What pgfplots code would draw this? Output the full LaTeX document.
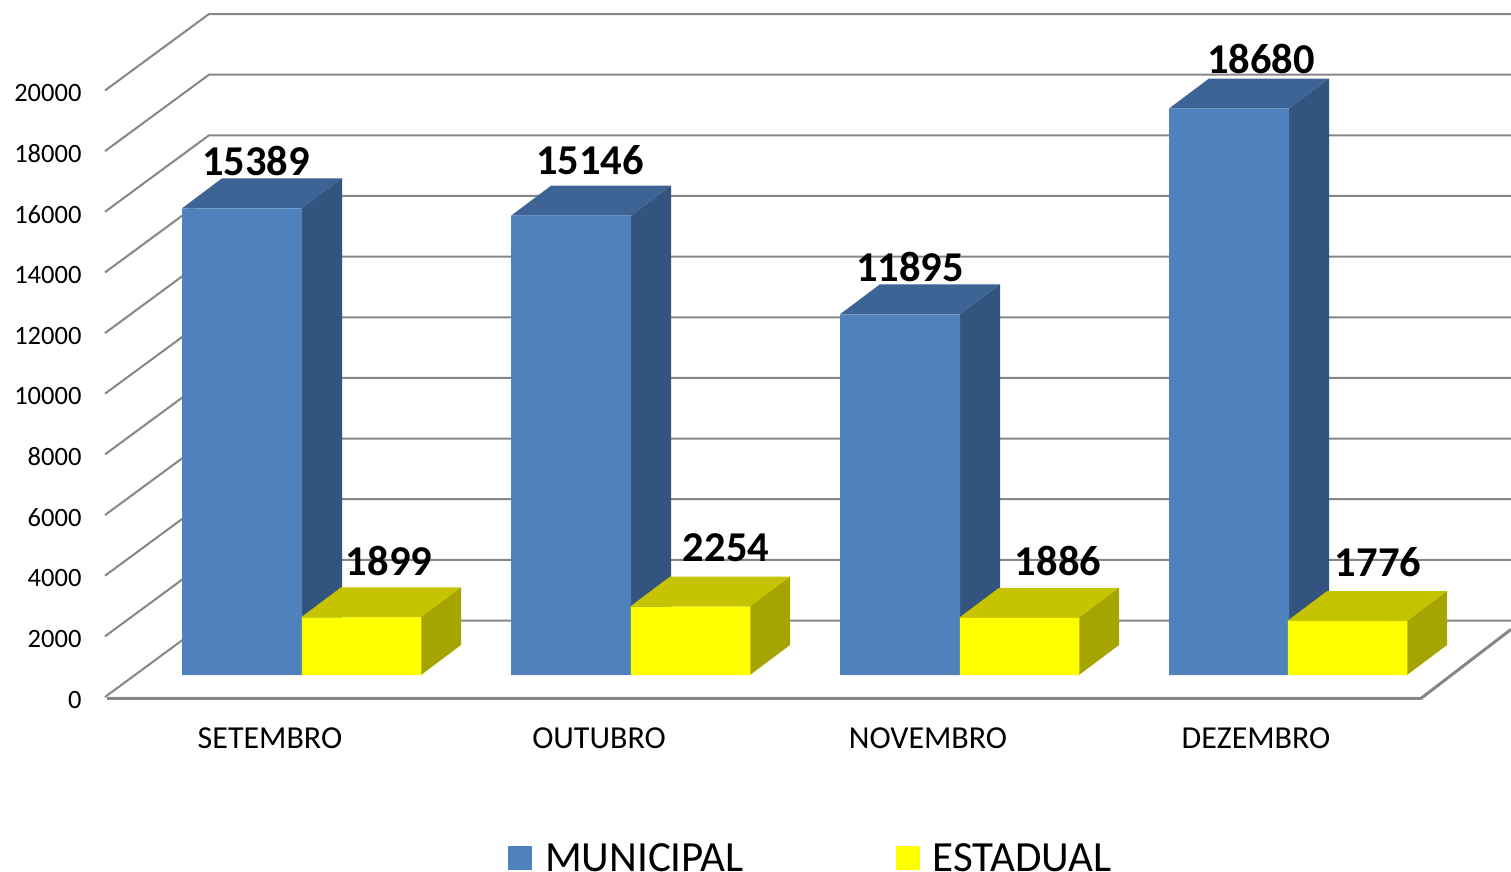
\documentclass[border=0pt]{standalone}
\usepackage{fontspec}
\setmainfont{Carlito}
\usepackage{pgfplots}
\pgfplotsset{compat=1.18}
\definecolor{gridc}{HTML}{868686}
\definecolor{bfront}{HTML}{4F81BD}
\definecolor{btop}{HTML}{3D6494}
\definecolor{bside}{HTML}{33547F}
\definecolor{yfront}{HTML}{FFFF00}
\definecolor{ytop}{HTML}{C6C300}
\definecolor{yside}{HTML}{A6A400}

% x is in picture pixels, y in chart units (bar bases at 0)
% wall gridline: front tick -> back wall -> right edge
\newcommand{\gridl}[1]{%
  \edef\tmp{\noexpand\addplot[gridc,line width=2pt,forget plot] coordinates
    {(105,\the\numexpr#1-725\relax) (209,\the\numexpr#1+1797\relax) (1511,\the\numexpr#1+1797\relax)};}%
  \tmp}
% top and side of a bar: left x, value, colours
\newcommand{\depth}[4]{%
  \edef\tmp{\noexpand\addplot[fill=#3,draw=none,forget plot] coordinates
    {(#1,#2) (\the\numexpr#1+40\relax,\the\numexpr#2+989\relax)
     (\the\numexpr#1+160\relax,\the\numexpr#2+989\relax) (\the\numexpr#1+120\relax,#2) (#1,#2)};
    \noexpand\addplot[fill=#4,draw=none,forget plot] coordinates
    {(\the\numexpr#1+120\relax,0) (\the\numexpr#1+160\relax,989)
     (\the\numexpr#1+160\relax,\the\numexpr#2+989\relax) (\the\numexpr#1+120\relax,#2) (\the\numexpr#1+120\relax,0)};}%
  \tmp}

\pgfplotstableread{
x v
242 15389
571 15146
900 11895
1229 18680
}\municipal
\pgfplotstableread{
x v
361.5 1899
690.5 2254
1019.5 1886
1347.5 1776
}\estadual

\begin{document}
\begin{tikzpicture}
\begin{axis}[
  scale only axis, width=1511pt, height=871pt,
  xmin=0, xmax=1511, ymin=-6463, ymax=22259,
  clip=false,
  axis line style={draw=none}, major tick length=0pt,
  tick label style={font=\fontsize{26.5}{30}\selectfont},
  scaled ticks=false,
  /pgf/number format/assume math mode=true,
  /pgf/number format/1000 sep={},
  ytick={0,2000,...,20000}, ytick pos=left,
  yticklabel style={anchor=east,xshift=85pt,yshift=-24.5pt},
  xtick={270,599,928,1256}, xtick pos=bottom,
  xticklabels={SETEMBRO,OUTUBRO,NOVEMBRO,DEZEMBRO},
  xticklabel style={font=\fontsize{32}{36}\selectfont,anchor=base,yshift=123pt},
  legend style={draw=none,fill=none,at={(0.5365,0.0145)},anchor=center,
    font=\fontsize{43}{47}\selectfont,inner sep=0pt,
    /tikz/every odd column/.append style={column sep=11pt},
    /tikz/every even column/.append style={column sep=150pt}},
  legend columns=2, legend cell align=left,
]
\gridl{0}\gridl{2000}\gridl{4000}\gridl{6000}\gridl{8000}\gridl{10000}
\gridl{12000}\gridl{14000}\gridl{16000}\gridl{18000}\gridl{20000}
% floor edges
\addplot[gridc,line width=3pt,forget plot] coordinates {(107,-770) (1421,-770) (1511,1505)};

\depth{182}{15389}{btop}{bside}
\depth{511}{15146}{btop}{bside}
\depth{840}{11895}{btop}{bside}
\depth{1169}{18680}{btop}{bside}
\addplot[ybar,bar width=120pt,bar shift=0pt,fill=bfront,draw=none,
  legend image code/.code={\fill[bfront] (0pt,-12pt) rectangle (24pt,12pt);}]
  table[x=x,y=v] {\municipal};
\addlegendentry{MUNICIPAL}

\depth{301}{1899}{ytop}{yside}
\depth{630}{2254}{ytop}{yside}
\depth{959}{1886}{ytop}{yside}
\depth{1287}{1776}{ytop}{yside}
\addplot[ybar,bar width=119.5pt,bar shift=0pt,fill=yfront,draw=none,
  legend image code/.code={\fill[yfront] (0pt,-12pt) rectangle (24pt,12pt);}]
  table[x=x,y=v] {\estadual};
\addlegendentry{ESTADUAL}

\begin{scope}[every node/.style={font=\fontsize{42.5}{46}\selectfont\bfseries,inner sep=0pt}]
\node at (axis cs:256,16950) {15389};
\node at (axis cs:590,16983) {15146};
\node at (axis cs:910,13454) {11895};
\node at (axis cs:1261,20313) {18680};
\node at (axis cs:389,3759) {1899};
\node at (axis cs:726,4188) {2254};
\node at (axis cs:1058,3759) {1886};
\node at (axis cs:1378,3726) {1776};
\end{scope}
\end{axis}
\pgfresetboundingbox
\path[use as bounding box] (0,0) rectangle (1511pt,871pt);
\end{tikzpicture}
\end{document}
